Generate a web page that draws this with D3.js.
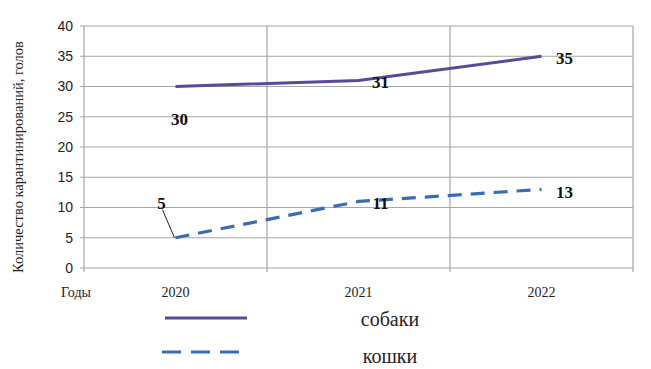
<!DOCTYPE html>
<html>
<head>
<meta charset="utf-8">
<script src="https://cdn.jsdelivr.net/npm/d3@7"></script>
<style>
  body { margin: 0; background: #fff; }
  svg { display: block; }
</style>
</head>
<body>
<div id="chart"></div>
<script>
// data
const years = ["2020", "2021", "2022"];
const dogs = [30, 31, 35];
const cats = [5, 11, 13];
const yTicks = [0, 5, 10, 15, 20, 25, 30, 35, 40];
const seriesNames = ["собаки", "кошки"];

const W = 651, H = 369;
const margin = {top: 26, right: 18, bottom: 101, left: 84};
const width = W - margin.left - margin.right;
const height = H - margin.top - margin.bottom;

const svg = d3.select("#chart").append("svg")
  .attr("width", W)
  .attr("height", H);

const x = d3.scaleBand().domain(years).range([0, width]);
const y = d3.scaleLinear().domain([0, 40]).range([height, 0]);

const g = svg.append("g")
  .attr("transform", `translate(${margin.left},${margin.top})`);

const grid = "#a6a6a6";

// horizontal grid + y ticks
g.selectAll("line.hgrid")
  .data(yTicks)
  .enter().append("line")
    .attr("class", "hgrid")
    .attr("x1", -4).attr("x2", width)
    .attr("y1", d => y(d)).attr("y2", d => y(d))
    .attr("stroke", grid).attr("stroke-width", 1.2);

// vertical grid at band edges
const edges = years.map(d => x(d)).concat([width]);
g.selectAll("line.vgrid")
  .data(edges)
  .enter().append("line")
    .attr("x1", d => d).attr("x2", d => d)
    .attr("y1", 0).attr("y2", height + 4)
    .attr("stroke", grid).attr("stroke-width", 1.2);

// y tick labels
g.selectAll("text.ytick")
  .data(yTicks)
  .enter().append("text")
    .attr("x", -11)
    .attr("y", d => y(d))
    .attr("dy", "0.35em")
    .attr("text-anchor", "end")
    .attr("font-family", "Liberation Sans, Arial, sans-serif")
    .attr("font-size", 14)
    .attr("fill", "#222")
    .text(d => d);

// x tick labels
const serif = "Liberation Serif, Times New Roman, serif";
g.selectAll("text.xtick")
  .data(years)
  .enter().append("text")
    .attr("x", d => x(d) + x.bandwidth() / 2)
    .attr("y", height + 29)
    .attr("text-anchor", "middle")
    .attr("font-family", serif)
    .attr("font-size", 14)
    .attr("fill", "#222")
    .text(d => d);

svg.append("text")
  .attr("x", 76).attr("y", margin.top + height + 29)
  .attr("text-anchor", "middle")
  .attr("font-family", serif)
  .attr("font-size", 14)
  .attr("fill", "#222")
  .text("Годы");

svg.append("text")
  .attr("transform", `translate(23,157) rotate(-90)`)
  .attr("text-anchor", "middle")
  .attr("font-family", serif)
  .attr("font-size", 14.5)
  .attr("fill", "#222")
  .text("Количество карантинирований, голов");

// lines
const cx = d => x(d) + x.bandwidth() / 2;
const line = d3.line()
  .x((d, i) => cx(years[i]))
  .y(d => y(d));

const dogColor = "#5d4799";
const catColor = "#3a6cb6";

g.append("path")
  .attr("d", line(dogs))
  .attr("fill", "none")
  .attr("stroke", dogColor)
  .attr("stroke-width", 3);

g.append("path")
  .attr("d", line(cats))
  .attr("fill", "none")
  .attr("stroke", catColor)
  .attr("stroke-width", 3.2)
  .attr("stroke-dasharray", "14,9");

// value labels (offsets as placed in the original)
const dogOff = [[4, 33], [22, 2], [23, 2]];
const catOff = [[-14, -35], [22, 2], [23, 3]];
const lbl = (vals, offs) => g.selectAll(null)
  .data(vals)
  .enter().append("text")
    .attr("x", (d, i) => cx(years[i]) + offs[i][0])
    .attr("y", (d, i) => y(d) + offs[i][1])
    .attr("dy", "0.35em")
    .attr("text-anchor", "middle")
    .attr("font-family", serif)
    .attr("font-weight", "bold")
    .attr("font-size", 17)
    .attr("fill", "#111")
    .text(d => d);
lbl(dogs, dogOff);
lbl(cats, catOff);

// leader line for "5"
g.append("line")
  .attr("x1", cx(years[0]) - 13).attr("y1", y(cats[0]) - 28)
  .attr("x2", cx(years[0]) - 1).attr("y2", y(cats[0]))
  .attr("stroke", "#222").attr("stroke-width", 1);

// legend
const legend = svg.append("g");
const legRows = [
  {name: seriesNames[0], color: dogColor, dash: null, y: 318},
  {name: seriesNames[1], color: catColor, dash: "19,10", y: 352}
];
legend.selectAll("line")
  .data(legRows)
  .enter().append("line")
    .attr("x1", (d, i) => i ? 162 : 165)
    .attr("x2", (d, i) => i ? 246 : 247)
    .attr("y1", d => d.y).attr("y2", d => d.y)
    .attr("stroke", d => d.color)
    .attr("stroke-width", 3)
    .attr("stroke-dasharray", d => d.dash);
legend.selectAll("text")
  .data(legRows)
  .enter().append("text")
    .attr("x", 390)
    .attr("y", (d, i) => d.y + (i ? 4 : 1))
    .attr("dy", "0.35em")
    .attr("text-anchor", "middle")
    .attr("font-family", serif)
    .attr("font-size", 20)
    .attr("fill", "#222")
    .text(d => d.name);
</script>
</body>
</html>
